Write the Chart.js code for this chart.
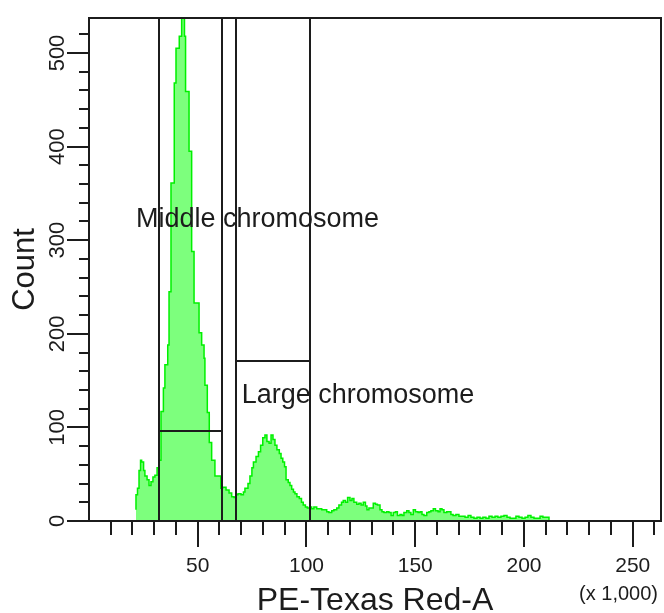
<!DOCTYPE html>
<html>
<head>
<meta charset="utf-8">
<script src="https://cdn.jsdelivr.net/npm/chart.js@4.4.1/dist/chart.umd.min.js"></script>
<style>
  html, body { margin: 0; padding: 0; background: #fff; }
  #wrap { width: 664px; height: 613px; position: relative; }
</style>
</head>
<body>
<div id="wrap"><canvas id="histo"></canvas></div>
<script>
// PE-Texas Red-A channel (x 1,000): left edge of each histogram bin
const binStart = [
  21.6, 22.3, 23.0, 23.7, 24.2, 25.1, 25.7, 26.7, 27.6, 28.5, 29.4, 30.3, 31.3, 32.2, 33.1,
  34.2, 34.9, 36.2, 36.8, 37.7, 39.2, 40.0, 41.5, 42.6, 43.9, 44.4, 46.0, 47.2, 48.3, 50.6,
  51.8, 52.9, 53.3, 54.4, 55.3, 56.4, 57.9, 60.6, 61.4, 63.0, 64.4, 65.6, 66.7, 67.6, 68.5,
  69.9, 71.0, 71.7, 73.1, 74.0, 74.9, 75.6, 76.8, 77.9, 78.9, 79.9, 80.9, 81.8, 82.8, 83.7,
  84.6, 85.5, 86.4, 87.5, 88.3, 89.1, 89.9, 90.6, 91.6, 92.4, 93.2, 94.0, 94.7, 95.6, 96.7,
  97.7, 98.5, 99.5, 100.4, 101.4, 102.4, 103.4, 104.7, 105.7, 107.0, 108.0, 109.3, 110.3, 111.6, 112.6,
  113.9, 114.9, 116.1, 116.9, 117.9, 118.9, 120.0, 120.9, 121.8, 123.1, 124.1, 125.1, 126.1, 127.1, 127.8,
  128.7, 129.7, 130.7, 131.7, 132.6, 133.8, 134.7, 135.6, 136.9, 137.9, 138.9, 139.9, 140.9, 141.8, 143.0,
  143.9, 144.8, 146.1, 147.1, 148.0, 149.1, 150.1, 151.3, 152.2, 153.1, 154.0, 155.3, 156.3, 157.2, 158.3,
  159.3, 160.5, 161.4, 162.3, 163.2, 164.5, 165.5, 166.4, 167.4, 168.7, 170.1, 171.5, 172.9, 174.3, 175.6,
  177.0, 178.4, 179.8, 181.1, 182.5, 183.9, 185.3, 186.7, 188.0, 189.4, 190.8, 192.2, 193.6, 194.9, 196.3,
  197.7, 199.1, 200.5, 201.8, 203.2, 204.6, 206.0, 207.4, 208.7, 210.1, 211.5, 211.9
];

// Event count per bin
const counts = [
  12, 28, 35, 54, 65, 63, 54, 48, 44, 38, 42, 47, 49, 57, 65,
  117, 142, 167, 188, 245, 361, 468, 505, 518, 560, 518, 459, 395, 288, 233,
  201, 188, 174, 145, 116, 84, 65, 48, 35, 36, 33, 30, 26, 25, 28,
  29, 28, 31, 35, 40, 48, 57, 63, 69, 74, 81, 89, 92, 85, 83,
  92, 87, 81, 76, 72, 67, 63, 58, 44, 41, 38, 34, 31, 29, 26,
  24, 20, 17, 15, 14, 15, 13, 15, 13, 13, 12, 12, 10, 9, 11,
  12, 14, 17, 20, 22, 20, 25, 22, 24, 20, 18, 19, 17, 20, 16,
  12, 14, 14, 19, 18, 17, 12, 10, 9, 10, 9, 6, 9, 10, 6,
  7, 6, 9, 11, 9, 7, 12, 10, 9, 10, 7, 6, 9, 10, 11,
  13, 11, 10, 13, 12, 9, 10, 10, 7, 6, 7, 5, 5, 4, 6,
  4, 3, 4, 3, 4, 3, 5, 4, 5, 4, 5, 6, 4, 3, 3,
  5, 4, 3, 4, 6, 4, 3, 3, 5, 4, 4, 0
];

// Interval gates
const gateNames = ['Middle chromosome', 'Large chromosome'];
const gateLow   = [32.3, 67.4];
const gateHigh  = [61.3, 101.6];
const gateLevel = [96.5, 171];
const gateLabelX = [21.6, 70.2];
const gateLabelY = [314, 126];

// Axis ranges and tick spacing
const xMax = 263;
const yMax = 537.4;
const xTickStep = 10;
const yTickStep = 20;
const xLabelEvery = 50;
const yLabelEvery = 100;

const FONT = '"Liberation Sans", Arial, sans-serif';
const INK = '#1c1c1c';

const points = binStart.map((b, i) => ({ x: b, y: counts[i] }));

// Fixed axis boxes without the automatic label overhang margins
function fixBox(size, prop) {
  return s => {
    s[prop] = size;
    s.paddingLeft = 0; s.paddingRight = 0; s.paddingTop = 0; s.paddingBottom = 0;
  };
}

// Gates, frame, tick marks and the unit note
const cytoDecor = {
  id: 'cytoDecor',
  afterDatasetsDraw(chart) {
    const { ctx, chartArea: a, scales: { x, y } } = chart;
    ctx.save();
    ctx.strokeStyle = INK;
    ctx.lineWidth = 2;

    gateNames.forEach((name, i) => {
      const x1 = Math.round(x.getPixelForValue(gateLow[i]));
      const x2 = Math.round(x.getPixelForValue(gateHigh[i]));
      const yl = Math.round(y.getPixelForValue(gateLevel[i]));
      ctx.beginPath();
      ctx.moveTo(x1, a.top); ctx.lineTo(x1, a.bottom);
      ctx.moveTo(x2, a.top); ctx.lineTo(x2, a.bottom);
      ctx.moveTo(x1, yl); ctx.lineTo(x2, yl);
      ctx.stroke();
    });

    ctx.fillStyle = INK;
    ctx.font = '27px ' + FONT;
    ctx.textAlign = 'left';
    ctx.textBaseline = 'alphabetic';
    gateNames.forEach((name, i) => {
      ctx.fillText(name, x.getPixelForValue(gateLabelX[i]), y.getPixelForValue(gateLabelY[i]));
    });

    ctx.strokeRect(a.left, a.top, a.right - a.left, a.bottom - a.top);

    ctx.beginPath();
    y.ticks.forEach(t => {
      const p = Math.round(y.getPixelForValue(t.value));
      const len = t.value % yLabelEvery === 0 ? 22 : 10;
      ctx.moveTo(a.left - len, p); ctx.lineTo(a.left, p);
    });
    x.ticks.forEach(t => {
      if (t.value === 0) return;
      const p = Math.round(x.getPixelForValue(t.value));
      const len = t.value % xLabelEvery === 0 ? 26 : 14;
      ctx.moveTo(p, a.bottom); ctx.lineTo(p, a.bottom + len);
    });
    ctx.stroke();

    ctx.font = '20px ' + FONT;
    ctx.textAlign = 'right';
    ctx.fillText('(x 1,000)', a.right - 3, 600);
    ctx.restore();
  }
};

new Chart(document.getElementById('histo'), {
  type: 'line',
  data: {
    datasets: [{
      label: 'Count',
      data: points,
      stepped: 'after',
      fill: 'origin',
      backgroundColor: '#7dff7d',
      borderColor: '#00f000',
      borderWidth: 1.5,
      pointRadius: 0,
      tension: 0
    }]
  },
  options: {
    responsive: true,
    maintainAspectRatio: false,
    animation: false,
    layout: { padding: { top: 18, right: 3, left: 0, bottom: 0 } },
    plugins: { legend: { display: false }, tooltip: { enabled: false } },
    scales: {
      x: {
        type: 'linear',
        min: 0,
        max: xMax,
        afterFit: fixBox(92, 'height'),
        border: { display: false },
        grid: { display: false, drawTicks: false },
        ticks: {
          stepSize: xTickStep,
          includeBounds: false,
          autoSkip: false,
          minRotation: 0,
          maxRotation: 0,
          padding: 33,
          color: INK,
          font: { family: FONT, size: 21 },
          callback: v => (v > 0 && v % xLabelEvery === 0) ? String(v) : ''
        },
        title: {
          display: true,
          text: 'PE-Texas Red-A',
          color: INK,
          font: { family: FONT, size: 32 },
          padding: { top: 0, bottom: -7 }
        }
      },
      y: {
        type: 'linear',
        min: 0,
        max: yMax,
        afterFit: fixBox(89, 'width'),
        border: { display: false },
        grid: { display: false, drawTicks: false },
        ticks: {
          stepSize: yTickStep,
          includeBounds: false,
          autoSkip: false,
          minRotation: 90,
          maxRotation: 90,
          crossAlign: 'center',
          padding: 13,
          color: INK,
          font: { family: FONT, size: 22 },
          callback: v => v % yLabelEvery === 0 ? String(v) : ''
        },
        title: {
          display: true,
          text: 'Count',
          color: INK,
          font: { family: FONT, size: 31 },
          padding: { top: 7, bottom: 0 }
        }
      }
    }
  },
  plugins: [cytoDecor]
});
</script>
</body>
</html>
